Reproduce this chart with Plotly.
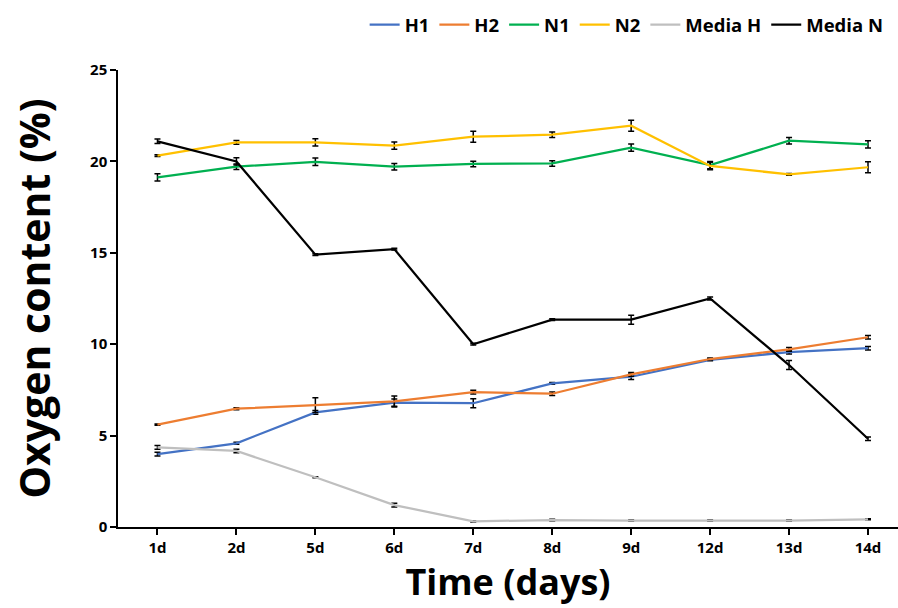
import plotly.graph_objects as go

days = ["1d", "2d", "5d", "6d", "7d", "8d", "9d", "12d", "13d", "14d"]

h1 = [3.99, 4.58, 6.27, 6.80, 6.77, 7.86, 8.22, 9.14, 9.57, 9.78]
h1_err = [0.10, 0.05, 0.10, 0.20, 0.25, 0.05, 0.15, 0.05, 0.10, 0.10]
h2 = [5.60, 6.47, 6.67, 6.87, 7.38, 7.29, 8.35, 9.19, 9.72, 10.38]
h2_err = [0.03, 0.05, 0.40, 0.30, 0.10, 0.10, 0.10, 0.05, 0.10, 0.10]
n1 = [19.13, 19.71, 19.98, 19.71, 19.86, 19.89, 20.75, 19.80, 21.13, 20.93]
n1_err = [0.20, 0.15, 0.20, 0.18, 0.15, 0.15, 0.20, 0.20, 0.18, 0.20]
n2 = [20.32, 21.04, 21.04, 20.86, 21.35, 21.46, 21.95, 19.75, 19.29, 19.68]
n2_err = [0.05, 0.10, 0.20, 0.20, 0.30, 0.15, 0.30, 0.20, 0.05, 0.30]
media_h = [4.36, 4.16, 2.72, 1.20, 0.31, 0.38, 0.35, 0.35, 0.35, 0.42]
media_h_err = [0.10, 0.10, 0.03, 0.10, 0.03, 0.05, 0.03, 0.03, 0.03, 0.03]
media_n = [21.10, 20.00, 14.90, 15.20, 10.00, 11.34, 11.34, 12.50, 8.86, 4.83]
media_n_err = [0.12, 0.20, 0.05, 0.05, 0.05, 0.05, 0.25, 0.08, 0.25, 0.10]

series = [
    ("H1", h1, h1_err, "#4472C4"),
    ("H2", h2, h2_err, "#ED7D31"),
    ("N1", n1, n1_err, "#00B050"),
    ("N2", n2, n2_err, "#FFC000"),
    ("Media H", media_h, media_h_err, "#BFBFBF"),
    ("Media N", media_n, media_n_err, "#000000"),
]

FONT = "Open Sans"

fig = go.Figure()
for name, vals, err, color in series:
    fig.add_trace(go.Scatter(
        x=days, y=vals, name=name, mode="lines",
        line=dict(color=color, width=2.25),
        error_y=dict(type="data", array=err, visible=True,
                     color="black", thickness=1.5, width=3),
    ))

fig.update_layout(
    width=898, height=608,
    margin=dict(l=118, r=0, t=70, b=81, autoexpand=False),
    plot_bgcolor="white", paper_bgcolor="white",
    font=dict(family=FONT, color="black"),
    showlegend=True,
    legend=dict(orientation="h", x=0.988, xanchor="right", y=1.098, yanchor="middle",
                font=dict(family=FONT, size=18.5, color="black", weight="bold"),
                itemwidth=30, traceorder="normal", tracegroupgap=0),
)
fig.update_xaxes(
    type="category", range=[-0.5, 9.38], automargin=False,
    showline=True, linecolor="black", linewidth=1.5,
    ticks="outside", ticklen=6, tickcolor="black", tickwidth=1.5,
    tickfont=dict(family=FONT, size=15, color="black", weight="bold"),
    showgrid=False, zeroline=False,
    title=dict(text="Time (days)", font=dict(family=FONT, size=36, color="black", weight="bold"),
               standoff=7),
)
fig.update_yaxes(
    range=[0, 25], dtick=5, automargin=False,
    showline=True, linecolor="black", linewidth=1.5,
    ticks="outside", ticklen=6, tickcolor="black", tickwidth=1.5,
    tickfont=dict(family=FONT, size=15, color="black", weight="bold"),
    showgrid=False, zeroline=False,
    title=dict(text="Oxygen content (%)", font=dict(family=FONT, size=41, color="black", weight="bold"),
               standoff=27),
)

fig.write_html("out.html", config={"displayModeBar": False},
               post_script="document.body.style.margin='0px';")
